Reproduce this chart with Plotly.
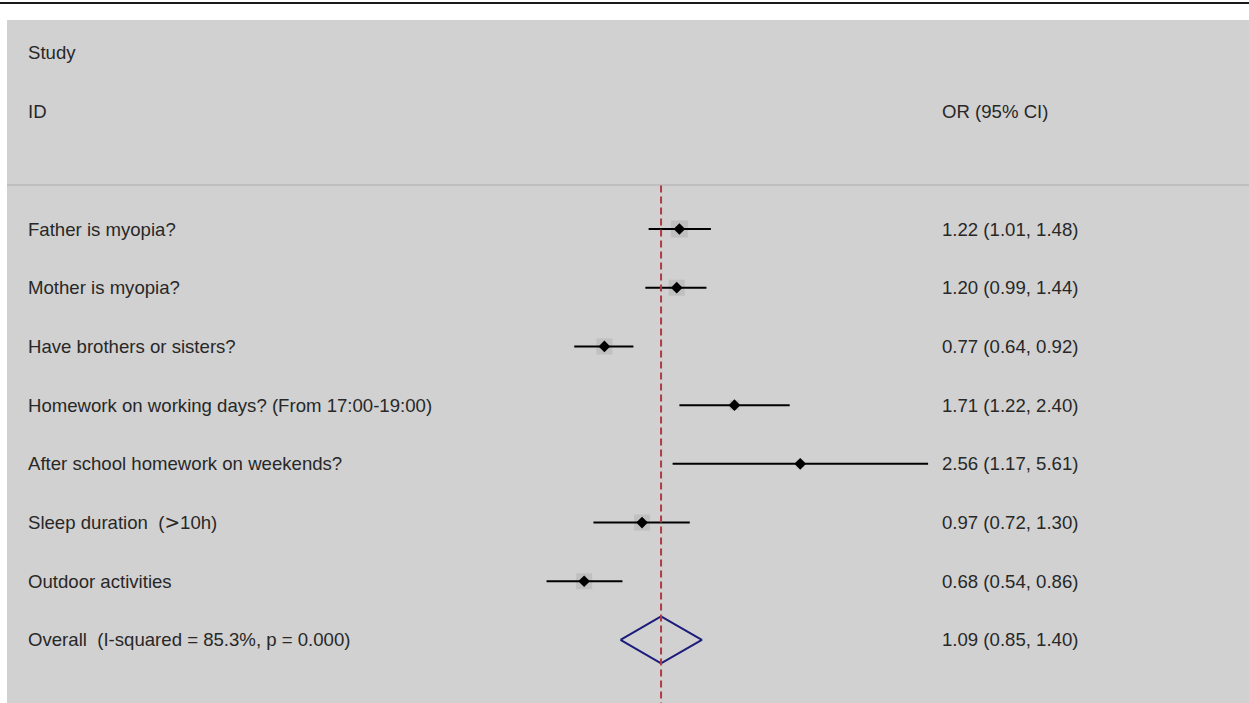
import math
import plotly.graph_objects as go

# Study rows of the forest plot
studies = [
    "Father is myopia?",
    "Mother is myopia?",
    "Have brothers or sisters?",
    "Homework on working days? (From 17:00-19:00)",
    "After school homework on weekends?",
    "Sleep duration \u00a0(<span style='font-family:DejaVu Sans'>&gt;</span>10h)",
    "Outdoor activities",
]
odds_ratio = [1.22, 1.20, 0.77, 1.71, 2.56, 0.97, 0.68]
ci_low = [1.01, 0.99, 0.64, 1.22, 1.17, 0.72, 0.54]
ci_high = [1.48, 1.44, 0.92, 2.40, 5.61, 1.30, 0.86]
weight_box_px = [17, 16, 16, 10, 8, 16, 16]

overall_label = "Overall \u00a0(I-squared = 85.3%, p = 0.000)"
overall_or = 1.09
overall_low = 0.85
overall_high = 1.40

header_study = "Study"
header_id = "ID"
header_or = "OR (95% CI)"

W, H = 1249, 703
ML, MT = 7, 20
PX_PER_LN = 163.0
X_NULL_PX = 647.0
ROW0_PX = 229.0
ROW_STEP = 58.71

plot_w = W - ML
plot_h = H - MT
px_per_dec = PX_PER_LN * math.log(10)
x_range = [(ML - X_NULL_PX) / px_per_dec, (W - X_NULL_PX) / px_per_dec]
y_top = (MT - ROW0_PX) / ROW_STEP
y_bot = (H - ROW0_PX) / ROW_STEP

rows = list(range(len(studies)))
overall_row = len(studies)

text_color = "#282828"
font_family = "Liberation Sans, Arial, sans-serif"
fs = 18.6

fig = go.Figure()

# weight boxes
fig.add_trace(go.Scatter(
    x=odds_ratio, y=rows, mode="markers",
    marker=dict(symbol="square", size=weight_box_px, color="#b9b9b9", line=dict(width=0)),
    hoverinfo="skip", showlegend=False,
))

# confidence intervals
ci_x, ci_y = [], []
for r, lo, hi in zip(rows, ci_low, ci_high):
    ci_x += [lo, hi, None]
    ci_y += [r, r, None]
fig.add_trace(go.Scatter(
    x=ci_x, y=ci_y, mode="lines",
    line=dict(color="black", width=2),
    hoverinfo="skip", showlegend=False,
))

# point estimates
fig.add_trace(go.Scatter(
    x=odds_ratio, y=rows, mode="markers",
    marker=dict(symbol="diamond", size=9, color="black"),
    hoverinfo="skip", showlegend=False,
))

# pooled estimate diamond
half_h = 0.40
fig.add_trace(go.Scatter(
    x=[overall_low, overall_or, overall_high, overall_or, overall_low],
    y=[overall_row, overall_row - half_h, overall_row, overall_row + half_h, overall_row],
    mode="lines", line=dict(color="#1c1c7a", width=2),
    hoverinfo="skip", showlegend=False,
))

annotations = []


def add_text(txt, xp, row):
    annotations.append(dict(
        text=txt, x=xp, y=row, xref="paper", yref="y",
        xanchor="left", yanchor="middle", showarrow=False,
        font=dict(family=font_family, size=fs, color=text_color),
    ))


label_x = (26 - ML) / plot_w
value_x = (940 - ML) / plot_w

add_text(header_study, label_x, -3)
add_text(header_id, label_x, -2)
add_text(header_or, value_x, -2)

for r, name, est, lo, hi in zip(rows, studies, odds_ratio, ci_low, ci_high):
    add_text(name, label_x, r)
    add_text(f"{est:.2f} ({lo:.2f}, {hi:.2f})", value_x, r)

add_text(overall_label, label_x, overall_row)
add_text(f"{overall_or:.2f} ({overall_low:.2f}, {overall_high:.2f})", value_x, overall_row)

shapes = [
    # header separator
    dict(type="line", xref="paper", yref="y", x0=0, x1=1, y0=-0.75, y1=-0.75,
         line=dict(color="#bfbfbf", width=2), layer="below"),
    # dashed line at the pooled estimate
    dict(type="line", xref="x", yref="y", x0=overall_or, x1=overall_or, y0=-0.74, y1=y_bot + 0.2,
         line=dict(color="#b23a48", width=2, dash="7px,4px")),
    # top rule
    dict(type="line", xref="paper", yref="paper", x0=-ML / plot_w, x1=1,
         y0=1 + 17 / plot_h, y1=1 + 17 / plot_h,
         line=dict(color="#1a1a1a", width=2)),
]

fig.update_layout(
    width=W, height=H,
    margin=dict(l=ML, r=0, t=MT, b=0, pad=0),
    paper_bgcolor="white",
    plot_bgcolor="#d1d1d1",
    showlegend=False,
    xaxis=dict(type="log", range=x_range, visible=False, fixedrange=True),
    yaxis=dict(range=[y_bot, y_top], visible=False, fixedrange=True),
    annotations=annotations,
    shapes=shapes,
)

fig.write_html("out.html")
